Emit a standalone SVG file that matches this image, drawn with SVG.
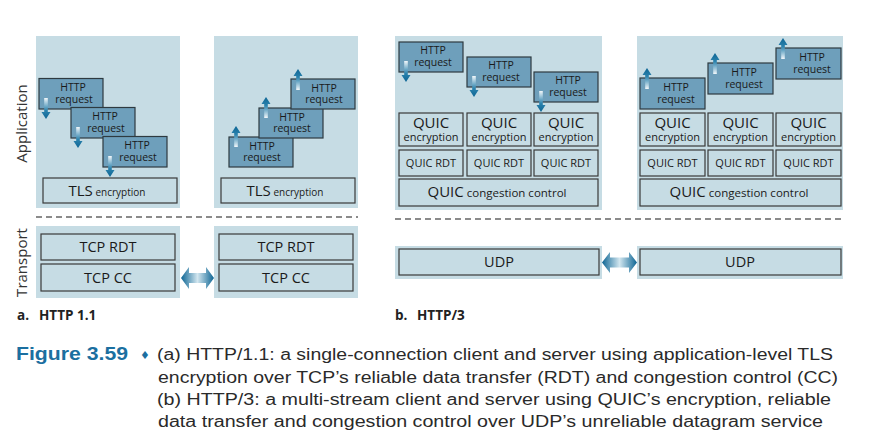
<svg xmlns="http://www.w3.org/2000/svg" xmlns:xlink="http://www.w3.org/1999/xlink" width="873" height="447" viewBox="0 0 873 447">
<style>
.bg{fill:#c6dce4;stroke:none}
.box{fill:#c6dce4;stroke:#3a3a3a;stroke-width:1.2}
.req{fill:#6e9fbb;stroke:#2e3a40;stroke-width:1.2}
.t{font-family:"Open Sans","Noto Sans","Liberation Sans",sans-serif;fill:#1a1a1a;text-anchor:middle}
.rt{font-size:10.5px}
.dash{stroke:#666;stroke-width:1.5;stroke-dasharray:6 4;fill:none}
.lbl{font-family:"Open Sans","Liberation Sans",sans-serif;font-size:13.5px;font-weight:700;fill:#222}
.side{font-family:"Open Sans","Liberation Sans",sans-serif;font-size:15px;fill:#333;text-anchor:middle}
.cap{font-family:"Liberation Sans",Arial,sans-serif;font-size:16px;fill:#2a2a2a}
.q{font-size:15px}
.e{font-size:11px}
</style>
<defs>
<linearGradient id="gDown" x1="0" y1="0" x2="0" y2="1">
<stop offset="0" stop-color="#f2f7fa"/>
<stop offset="0.6" stop-color="#2a82ad"/>
<stop offset="1" stop-color="#0d6594"/>
</linearGradient>
<linearGradient id="gUp" x1="0" y1="1" x2="0" y2="0">
<stop offset="0" stop-color="#f2f7fa"/>
<stop offset="0.6" stop-color="#2a82ad"/>
<stop offset="1" stop-color="#0d6594"/>
</linearGradient>
<linearGradient id="gH" x1="0" y1="0" x2="1" y2="0">
<stop offset="0" stop-color="#0d6594"/>
<stop offset="0.5" stop-color="#d2e6ef"/>
<stop offset="1" stop-color="#0d6594"/>
</linearGradient>
<path id="dn" d="M-1.8,0 H1.8 V14 H4.5 L0,21 L-4.5,14 H-1.8 Z" fill="url(#gDown)"/>
<path id="up" d="M0,0 L4.5,7 H1.8 V21 H-1.8 V7 H-4.5 Z" fill="url(#gUp)"/>
</defs>
<rect width="873" height="447" fill="#ffffff"/>

<!-- side labels -->
<text class="side" transform="translate(27,123.5) rotate(-90)">Application</text>
<text class="side" transform="translate(27,262.5) rotate(-90)">Transport</text>

<!-- Panel a backgrounds -->
<g id="a-client-app"><rect class="bg" x="36" y="36" width="144" height="172"/></g>
<g id="a-server-app"><rect class="bg" x="214" y="36" width="144" height="172"/></g>
<g id="a-client-tr"><rect class="bg" x="36" y="226" width="144" height="72"/></g>
<g id="a-server-tr"><rect class="bg" x="214" y="226" width="144" height="72"/></g>
<line class="dash" x1="36" y1="217" x2="358" y2="217"/>

<!-- Panel a client HTTP requests -->
<g id="a-c-req1"><rect class="req" x="39" y="78.5" width="64" height="30.5"/><text class="t rt"><tspan x="73" y="91">HTTP</tspan><tspan x="74" dy="11.5">request</tspan></text></g>
<g id="a-c-req2"><rect class="req" x="71" y="107.5" width="64" height="30.5"/><text class="t rt"><tspan x="105" y="120">HTTP</tspan><tspan x="106" dy="11.5">request</tspan></text></g>
<g id="a-c-req3"><rect class="req" x="103" y="136.5" width="64" height="30.5"/><text class="t rt"><tspan x="137" y="149">HTTP</tspan><tspan x="138" dy="11.5">request</tspan></text></g>
<g id="a-c-tls"><rect class="box" x="43" y="178" width="134" height="25"/><text class="t" x="107" y="196"><tspan font-size="15">TLS</tspan><tspan font-size="10"> encryption</tspan></text></g>

<!-- Panel a server HTTP requests -->
<g id="a-s-req1"><rect class="req" x="229" y="137" width="64" height="30"/><text class="t rt"><tspan x="262" y="149.5">HTTP</tspan><tspan x="262" dy="11.5">request</tspan></text></g>
<g id="a-s-req2"><rect class="req" x="259" y="108" width="64" height="30"/><text class="t rt"><tspan x="292" y="120.5">HTTP</tspan><tspan x="292" dy="11.5">request</tspan></text></g>
<g id="a-s-req3"><rect class="req" x="291" y="79" width="64" height="30"/><text class="t rt"><tspan x="324" y="91.5">HTTP</tspan><tspan x="324" dy="11.5">request</tspan></text></g>
<g id="a-s-tls"><rect class="box" x="221" y="178" width="134" height="25"/><text class="t" x="285" y="196"><tspan font-size="15">TLS</tspan><tspan font-size="10"> encryption</tspan></text></g>

<!-- Panel a transport -->
<g id="a-c-rdt"><rect class="box" x="41" y="234" width="134" height="26"/><text class="t" x="108" y="252" font-size="14.5">TCP RDT</text></g>
<g id="a-c-cc"><rect class="box" x="41" y="264" width="134" height="27"/><text class="t" x="108" y="283" font-size="14.5">TCP CC</text></g>
<g id="a-s-rdt"><rect class="box" x="219" y="234" width="134" height="26"/><text class="t" x="286" y="252" font-size="14.5">TCP RDT</text></g>
<g id="a-s-cc"><rect class="box" x="219" y="264" width="134" height="27"/><text class="t" x="286" y="283" font-size="14.5">TCP CC</text></g>

<text class="lbl" x="17" y="320">a.</text>
<text class="lbl" x="39" y="320">HTTP 1.1</text>

<!-- Panel b backgrounds -->
<g id="b-client-app"><rect class="bg" x="395" y="36" width="207" height="174"/></g>
<g id="b-server-app"><rect class="bg" x="637" y="36" width="206" height="174"/></g>
<g id="b-client-tr"><rect class="bg" x="395" y="246" width="207" height="33"/></g>
<g id="b-server-tr"><rect class="bg" x="637" y="246" width="206" height="33"/></g>
<line class="dash" x1="395" y1="219" x2="843" y2="219"/>

<!-- Panel b client -->
<g id="b-c-req1"><rect class="req" x="399" y="42" width="64" height="30"/><text class="t rt"><tspan x="433" y="54">HTTP</tspan><tspan x="433" dy="12">request</tspan></text></g>
<g id="b-c-req2"><rect class="req" x="467" y="57" width="64" height="30"/><text class="t rt"><tspan x="501" y="69">HTTP</tspan><tspan x="501" dy="12">request</tspan></text></g>
<g id="b-c-req3"><rect class="req" x="534" y="72" width="64" height="30"/><text class="t rt"><tspan x="568" y="84">HTTP</tspan><tspan x="568" dy="12">request</tspan></text></g>
<g id="b-c-enc1"><rect class="box" x="399" y="113" width="64" height="33"/><text class="t"><tspan class="q" x="431" y="128">QUIC</tspan><tspan class="e" x="431" dy="13">encryption</tspan></text></g>
<g id="b-c-enc2"><rect class="box" x="467" y="113" width="64" height="33"/><text class="t"><tspan class="q" x="499" y="128">QUIC</tspan><tspan class="e" x="499" dy="13">encryption</tspan></text></g>
<g id="b-c-enc3"><rect class="box" x="534" y="113" width="64" height="33"/><text class="t"><tspan class="q" x="566" y="128">QUIC</tspan><tspan class="e" x="566" dy="13">encryption</tspan></text></g>
<g id="b-c-rdt1"><rect class="box" x="399" y="150" width="64" height="26"/><text class="t" x="431" y="167" font-size="11">QUIC RDT</text></g>
<g id="b-c-rdt2"><rect class="box" x="467" y="150" width="64" height="26"/><text class="t" x="499" y="167" font-size="11">QUIC RDT</text></g>
<g id="b-c-rdt3"><rect class="box" x="534" y="150" width="64" height="26"/><text class="t" x="566" y="167" font-size="11">QUIC RDT</text></g>
<g id="b-c-cc"><rect class="box" x="399" y="179" width="199" height="27"/><text class="t" x="497" y="197"><tspan font-size="15">QUIC</tspan><tspan font-size="11.5"> congestion control</tspan></text></g>
<g id="b-c-udp"><rect class="box" x="399" y="249" width="200" height="26"/><text class="t" x="499" y="267" font-size="14.5">UDP</text></g>

<!-- Panel b server -->
<g id="b-s-req1"><rect class="req" x="640" y="78" width="65" height="31"/><text class="t rt"><tspan x="676" y="91">HTTP</tspan><tspan x="676" dy="12">request</tspan></text></g>
<g id="b-s-req2"><rect class="req" x="708" y="63" width="65" height="31"/><text class="t rt"><tspan x="744" y="76">HTTP</tspan><tspan x="744" dy="12">request</tspan></text></g>
<g id="b-s-req3"><rect class="req" x="776" y="48" width="65" height="31"/><text class="t rt"><tspan x="812" y="61">HTTP</tspan><tspan x="812" dy="12">request</tspan></text></g>
<g id="b-s-enc1"><rect class="box" x="640" y="113" width="65" height="33"/><text class="t"><tspan class="q" x="672.5" y="128">QUIC</tspan><tspan class="e" x="672.5" dy="13">encryption</tspan></text></g>
<g id="b-s-enc2"><rect class="box" x="708" y="113" width="65" height="33"/><text class="t"><tspan class="q" x="740.5" y="128">QUIC</tspan><tspan class="e" x="740.5" dy="13">encryption</tspan></text></g>
<g id="b-s-enc3"><rect class="box" x="776" y="113" width="65" height="33"/><text class="t"><tspan class="q" x="808.5" y="128">QUIC</tspan><tspan class="e" x="808.5" dy="13">encryption</tspan></text></g>
<g id="b-s-rdt1"><rect class="box" x="640" y="150" width="65" height="26"/><text class="t" x="672.5" y="167" font-size="11">QUIC RDT</text></g>
<g id="b-s-rdt2"><rect class="box" x="708" y="150" width="65" height="26"/><text class="t" x="740.5" y="167" font-size="11">QUIC RDT</text></g>
<g id="b-s-rdt3"><rect class="box" x="776" y="150" width="65" height="26"/><text class="t" x="808.5" y="167" font-size="11">QUIC RDT</text></g>
<g id="b-s-cc"><rect class="box" x="640" y="179" width="201" height="27"/><text class="t" x="739" y="197"><tspan font-size="15">QUIC</tspan><tspan font-size="11.5"> congestion control</tspan></text></g>
<g id="b-s-udp"><rect class="box" x="640" y="249" width="201" height="26"/><text class="t" x="740" y="267" font-size="14.5">UDP</text></g>

<text class="lbl" x="395" y="320">b.</text>
<text class="lbl" x="417" y="320">HTTP/3</text>

<!-- connectors -->
<g id="connectors">
<use href="#dn" x="46" y="98"/>
<use href="#dn" x="78" y="127"/>
<use href="#dn" x="110" y="156"/>
<use href="#up" x="236" y="126"/>
<use href="#up" x="266" y="97"/>
<use href="#up" x="298" y="69"/>
<use href="#dn" x="406" y="61"/>
<use href="#dn" x="474" y="76"/>
<use href="#dn" x="541" y="91"/>
<use href="#up" x="647" y="68"/>
<use href="#up" x="715" y="53"/>
<use href="#up" x="783" y="38"/>
<path d="M181,278 L189,267 V273 H206 V267 L214,278 L206,289 V283 H189 V289 Z" fill="url(#gH)"/>
<path d="M602,262.5 L610,252 V257.5 H629 V252 L637,262.5 L629,273 V267.5 H610 V273 Z" fill="url(#gH)"/>
</g>

<!-- caption -->
<text x="16" y="360" font-family="'Liberation Sans',Arial,sans-serif" font-size="19" font-weight="700" fill="#1b6fa0" textLength="112" lengthAdjust="spacingAndGlyphs">Figure 3.59</text>
<text x="145" y="359" font-family="'DejaVu Sans',sans-serif" font-size="11" fill="#1b6fa0" text-anchor="middle">♦</text>
<text class="cap" x="157" y="360" textLength="676" lengthAdjust="spacingAndGlyphs">(a) HTTP/1.1: a single-connection client and server using application-level TLS</text>
<text class="cap" x="158" y="383" textLength="680" lengthAdjust="spacingAndGlyphs">encryption over TCP’s reliable data transfer (RDT) and congestion control (CC)</text>
<text class="cap" x="157" y="405" textLength="674" lengthAdjust="spacingAndGlyphs">(b) HTTP/3: a multi-stream client and server using QUIC’s encryption, reliable</text>
<text class="cap" x="158" y="427" textLength="665" lengthAdjust="spacingAndGlyphs">data transfer and congestion control over UDP’s unreliable datagram service</text>
</svg>
